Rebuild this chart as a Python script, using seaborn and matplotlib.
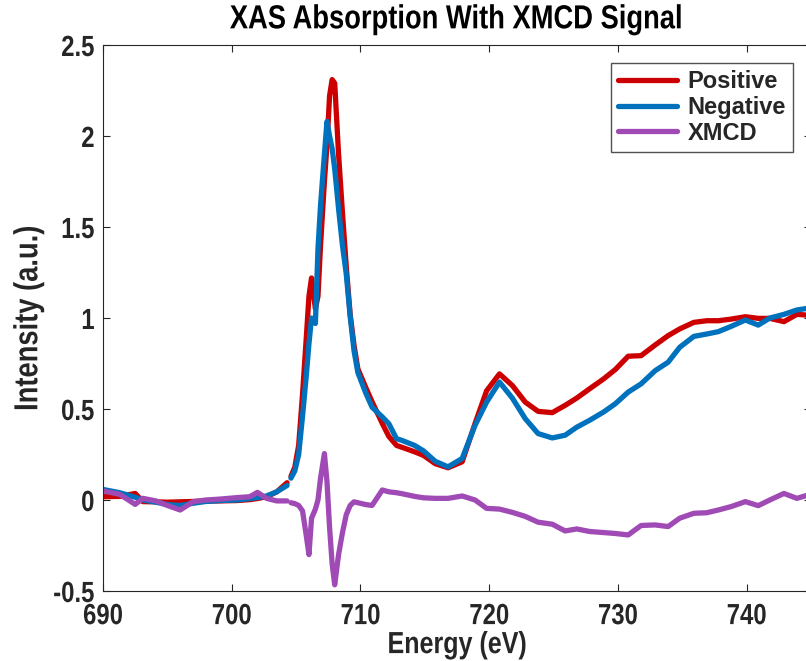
import numpy as np
import pandas as pd
import matplotlib
matplotlib.use("Agg")
import matplotlib.pyplot as plt
from matplotlib.patheffects import AbstractPathEffect
from matplotlib.transforms import Affine2D
import seaborn as sns

# Pre-edge scan (coarse steps)
energy_pre = [690.0, 691.3, 692.5, 693.1, 694.1, 695.0, 696.0, 697.0, 698.0,
              699.1, 700.4, 701.4, 702.0, 702.7, 703.5, 704.3]
positive_pre = [0.018, 0.020, 0.036, -0.009, -0.010, -0.012, -0.010, -0.008, -0.006,
                -0.005, -0.003, 0.002, 0.008, 0.018, 0.045, 0.095]
negative_pre = [0.058, 0.040, 0.015, 0.000, -0.012, -0.025, -0.030, -0.018, -0.008,
                -0.003, 0.000, 0.008, 0.013, 0.022, 0.045, 0.080]
xmcd_pre = [0.050, 0.031, -0.024, 0.009, -0.005, -0.030, -0.055, -0.009, 0.000,
            0.005, 0.013, 0.018, 0.042, 0.009, -0.005, -0.005]

# Edge and post-edge scan
energy_edge = [704.6, 704.9, 705.2, 705.5, 705.8, 706.0, 706.2, 706.5, 706.7, 706.9,
               707.2, 707.4, 707.6, 707.8, 708.0, 708.3, 708.6, 708.9, 709.2, 709.5,
               709.8, 710.4, 710.9, 711.7, 712.2, 712.8, 713.2, 714.2, 714.9, 715.8,
               716.8, 717.9, 718.9, 719.8, 720.8, 721.8, 722.8, 723.8, 724.9, 725.9,
               726.8, 727.8, 728.9, 729.8, 730.8, 731.8, 732.9, 733.9, 734.8, 735.9,
               736.9, 737.8, 738.8, 739.9, 740.9, 741.8, 742.9, 743.9, 744.9]
positive_edge = [0.13, 0.18, 0.30, 0.58, 0.90, 1.12, 1.22, 1.05, 1.12, 1.40,
                 1.75, 1.95, 2.22, 2.31, 2.29, 1.90, 1.58, 1.28, 1.02, 0.85,
                 0.72, 0.62, 0.54, 0.42, 0.35, 0.30, 0.29, 0.265, 0.245, 0.20,
                 0.177, 0.21, 0.42, 0.60, 0.693, 0.629, 0.538, 0.487, 0.48, 0.52,
                 0.56, 0.611, 0.666, 0.717, 0.79, 0.793, 0.852, 0.903, 0.94, 0.976,
                 0.985, 0.985, 0.994, 1.007, 0.998, 0.998, 0.98, 1.02, 1.015]
negative_edge = [0.12, 0.16, 0.25, 0.46, 0.69, 0.86, 1.00, 0.97, 1.38, 1.62,
                 1.90, 2.08, 2.00, 1.93, 1.82, 1.60, 1.40, 1.24, 1.01, 0.82,
                 0.70, 0.59, 0.51, 0.456, 0.42, 0.337, 0.328, 0.30, 0.27, 0.213,
                 0.182, 0.228, 0.41, 0.538, 0.648, 0.56, 0.447, 0.365, 0.341, 0.356,
                 0.40, 0.438, 0.484, 0.529, 0.593, 0.638, 0.711, 0.757, 0.839, 0.899,
                 0.912, 0.925, 0.954, 0.989, 0.961, 1.00, 1.02, 1.044, 1.055]
xmcd_edge = [-0.015, -0.020, -0.030, -0.060, -0.200, -0.300, -0.100, -0.050, 0.000, 0.120,
             0.255, 0.100, -0.150, -0.350, -0.466, -0.300, -0.180, -0.080, -0.030, -0.010,
             -0.015, -0.025, -0.030, 0.055, 0.045, 0.040, 0.035, 0.020, 0.012, 0.009,
             0.009, 0.022, 0.000, -0.046, -0.050, -0.068, -0.090, -0.122, -0.133, -0.170,
             -0.159, -0.173, -0.179, -0.184, -0.192, -0.140, -0.137, -0.146, -0.100, -0.073,
             -0.070, -0.055, -0.036, -0.009, -0.031, 0.000, 0.036, 0.009, 0.030]

series_names = ["Positive", "Negative", "XMCD"]
colors = {"Positive": "#CC0000", "Negative": "#0072BD", "XMCD": "#A04AB5"}
x_ticks = [690, 700, 710, 720, 730, 740]
y_ticks = [-0.5, 0, 0.5, 1, 1.5, 2, 2.5]
y_tick_labels = ["-0.5", "0", "0.5", "1", "1.5", "2", "2.5"]

frames = []
for scan, energy, values in [
    ("pre", energy_pre, [positive_pre, negative_pre, xmcd_pre]),
    ("edge", energy_edge, [positive_edge, negative_edge, xmcd_edge]),
]:
    for name, vals in zip(series_names, values):
        frames.append(pd.DataFrame({"Energy": energy, "Intensity": vals,
                                    "Signal": name, "Scan": scan}))
data = pd.concat(frames, ignore_index=True)


class Condensed(AbstractPathEffect):
    """Draw text glyphs narrowed along the text direction (Helvetica-Narrow look)."""

    def __init__(self, factor=0.82, anchor="center"):
        super().__init__()
        self.factor = factor
        self.anchor = anchor

    def draw_path(self, renderer, gc, tpath, affine, rgbFace=None):
        ext = tpath.get_extents()
        if self.anchor == "left":
            x0 = ext.x0
        elif self.anchor == "right":
            x0 = ext.x1
        else:
            x0 = 0.5 * (ext.x0 + ext.x1)
        squeeze = Affine2D().translate(-x0, 0).scale(self.factor, 1.0).translate(x0, 0)
        renderer.draw_path(gc, tpath, squeeze + affine, rgbFace)


sns.set_style("ticks")
plt.rcParams["font.family"] = ["Liberation Sans", "DejaVu Sans"]
plt.rcParams["font.weight"] = "bold"
ink = "#262626"

fig = plt.figure(figsize=(8.06, 6.61), dpi=100)
ax = fig.add_axes([103 / 806, 70 / 661, 708 / 806, 546 / 661])

sns.lineplot(data=data, x="Energy", y="Intensity", hue="Signal", units="Scan",
             estimator=None, hue_order=series_names, palette=colors,
             linewidth=3.8, sort=False, ax=ax)

ax.set_xlim(690, 745)
ax.set_ylim(-0.5, 2.5)
ax.set_xticks(x_ticks)
ax.set_yticks(y_ticks)
ax.set_yticklabels(y_tick_labels)
ax.tick_params(direction="in", length=5, width=0.8, top=True, right=True,
               labelsize=21, colors=ink)
ax.tick_params(axis="x", pad=8)
ax.tick_params(axis="y", pad=6)
for lab in ax.get_xticklabels():
    lab.set_fontweight("bold")
    lab.set_path_effects([Condensed(0.82, "center")])
for lab in ax.get_yticklabels():
    lab.set_fontweight("bold")
    lab.set_path_effects([Condensed(0.82, "right")])
for side in ["left", "right", "top", "bottom"]:
    ax.spines[side].set_visible(True)
    ax.spines[side].set_color(ink)
    ax.spines[side].set_linewidth(0.8)

xl = ax.set_xlabel("Energy (eV)", fontsize=22, fontweight="bold", color=ink, labelpad=0)
yl = ax.set_ylabel("Intensity (a.u.)", fontsize=24, fontweight="bold", color=ink, labelpad=0)
tl = ax.set_title("XAS Absorption With XMCD Signal", fontsize=24, fontweight="bold",
                  color="black", pad=12)
for t in (xl, yl, tl):
    t.set_path_effects([Condensed(0.82, "center")])

handles, labels = ax.get_legend_handles_labels()
leg = ax.legend(handles, labels, loc="upper right",
                bbox_to_anchor=(793 / 806, 1 - 63 / 661), bbox_transform=fig.transFigure,
                fontsize=17, frameon=True, fancybox=False, handlelength=2.5,
                handletextpad=0.45, borderpad=0.3, labelspacing=0.12, borderaxespad=0)
leg.get_frame().set_edgecolor(ink)
leg.get_frame().set_linewidth(1.0)
for t in leg.get_texts():
    t.set_fontweight("bold")
for h in leg.get_lines():
    h.set_linewidth(3.8)

fig.savefig("out.png", dpi=100)
